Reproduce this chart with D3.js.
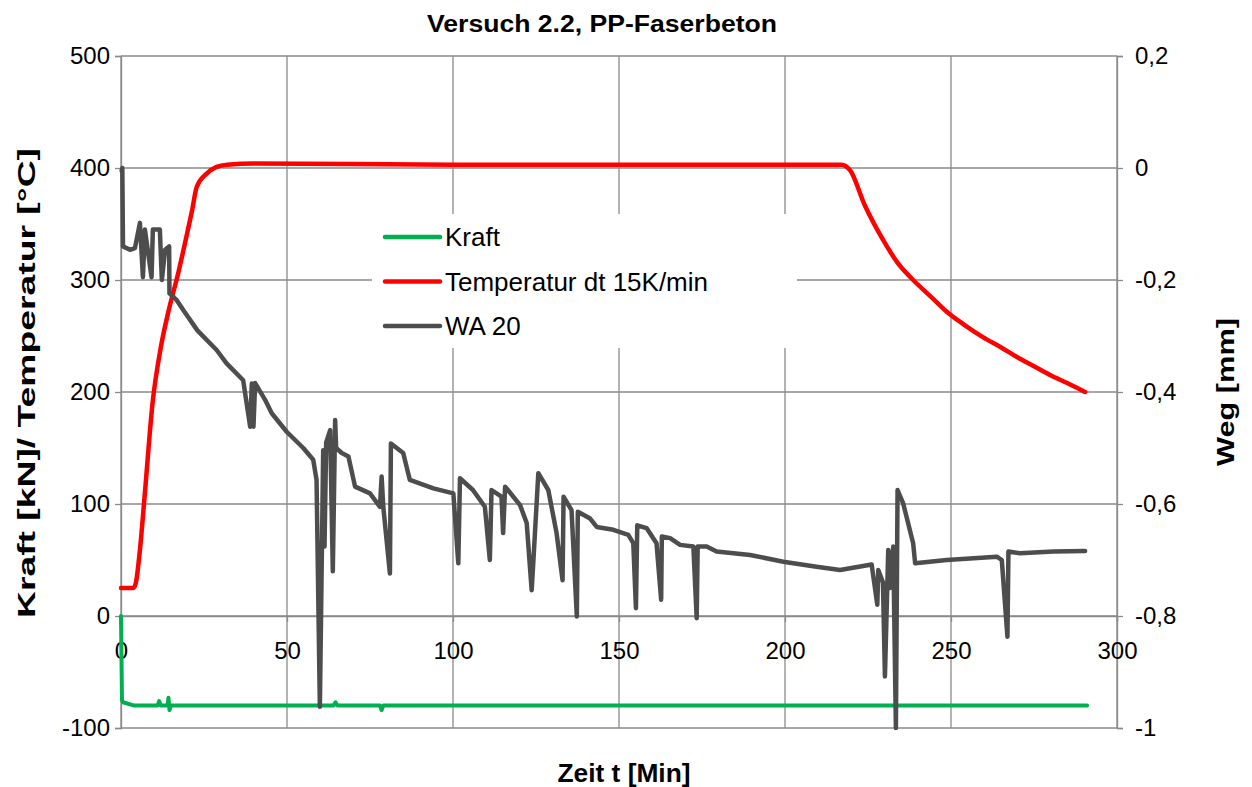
<!DOCTYPE html>
<html>
<head>
<meta charset="utf-8">
<script src="https://cdn.jsdelivr.net/npm/d3@7"></script>
<style>
  body { margin: 0; background: #fff; }
  text { font-family: "Liberation Sans", Arial, sans-serif; fill: #000; }
</style>
</head>
<body>
<div id="chart"></div>
<script>
// Kraft [kN], left axis
var kraftT = [0, 0.3, 0.6, 4, 11, 11.5, 12, 14, 14.3, 14.6, 15, 30, 64, 64.6, 65.2, 78, 78.5, 79, 120, 200, 291];
var kraftV = [0, -75, -77, -80, -80, -76, -80, -80, -73, -84, -80, -80, -80, -77, -80, -80, -84, -80, -80, -80, -80];

// Temperatur dt 15K/min [°C], left axis
var tempT = [0, 3.7, 4.5, 5.7, 7.2, 9.5, 12, 14.3, 17.3, 19.8, 21.4, 22.8, 25.8, 28.8, 32, 40, 100, 160, 217, 219.6, 224, 229.5, 234, 238.6, 244, 249, 254, 259.6, 265, 270, 275, 280, 285, 290.4];
var tempV = [25, 25, 30, 59, 110, 190, 240, 272, 307, 340, 362, 383, 395, 401, 403, 404, 403, 403, 403, 398, 367, 336, 315, 300, 285, 271, 260, 249, 240, 231, 223, 215, 208, 200];

// WA 20 Weg [mm], right axis
var waT = [0.2, 0.4, 0.6, 2.7, 4.2, 5.7, 6.6, 7.2, 9.2, 9.6, 11.7, 12.3, 13.3, 14.5, 14.6, 16.8, 18.8, 23, 28.8, 31.8, 36.8, 38.9, 39.4, 39.9, 40.4, 43.4, 45.4, 49.9, 54.9, 57.9, 58.9, 59.9, 60.9, 61.3, 61.8, 63, 63.8, 64.5, 64.8, 66.5, 68.5, 70.5, 75, 78, 78.5, 79, 81, 81.3, 85, 87, 94.1, 100.1, 101.6, 102.1, 106, 109.6, 111.1, 111.6, 114.6, 115.1, 115.7, 120.2, 122.2, 123.7, 124.4, 125.7, 128.7, 131.2, 133, 133.3, 135.7, 137.3, 137.6, 141.3, 143.3, 148.3, 152.8, 154.3, 155.1, 155.5, 158.3, 161.3, 162.7, 162.9, 165.4, 168.4, 172.4, 173.4, 173.7, 176.4, 179.4, 189.5, 199.5, 209.5, 216.6, 226.1, 227.8, 228.1, 229.5, 230.1, 231.1, 231.6, 232.6, 233.4, 233.9, 235.6, 238.6, 239.2, 248.7, 263.8, 265.3, 267, 267.3, 270.8, 280.8, 290.4];
var waV = [-0.005, 0, -0.14, -0.146, -0.143, -0.098, -0.195, -0.11, -0.195, -0.11, -0.11, -0.2, -0.146, -0.14, -0.224, -0.236, -0.254, -0.29, -0.325, -0.349, -0.379, -0.462, -0.385, -0.462, -0.384, -0.414, -0.438, -0.471, -0.5, -0.521, -0.557, -0.962, -0.504, -0.676, -0.49, -0.468, -0.72, -0.45, -0.5, -0.509, -0.515, -0.569, -0.581, -0.605, -0.551, -0.605, -0.724, -0.492, -0.509, -0.557, -0.572, -0.581, -0.706, -0.554, -0.575, -0.605, -0.7, -0.575, -0.587, -0.652, -0.569, -0.602, -0.634, -0.754, -0.682, -0.545, -0.575, -0.652, -0.736, -0.587, -0.611, -0.801, -0.614, -0.626, -0.641, -0.646, -0.655, -0.67, -0.786, -0.638, -0.643, -0.67, -0.771, -0.658, -0.661, -0.673, -0.676, -0.804, -0.676, -0.676, -0.685, -0.691, -0.703, -0.712, -0.718, -0.708, -0.78, -0.718, -0.74, -0.908, -0.682, -0.75, -0.676, -1.0, -0.575, -0.599, -0.67, -0.706, -0.7, -0.694, -0.7, -0.837, -0.685, -0.688, -0.685, -0.684];

var xTicks = [0, 50, 100, 150, 200, 250, 300];
var leftTicks = [-100, 0, 100, 200, 300, 400, 500];
var rightTicks = [-1, -0.8, -0.6, -0.4, -0.2, 0, 0.2];
var seriesNames = ['Kraft', 'Temperatur dt 15K/min', 'WA 20'];
var seriesColors = ['#00b050', '#ff0000', '#4d4d4d'];

var W = 1252, H = 787;
var margin = {top: 56, right: 135, bottom: 59, left: 121},
    width = W - margin.left - margin.right,
    height = H - margin.top - margin.bottom;

var xScale = d3.scaleLinear().domain([0, 300]).range([0, width]);
var yLeft = d3.scaleLinear().domain([-100, 500]).range([height, 0]);
var yRight = d3.scaleLinear().domain([-1, 0.2]).range([height, 0]);

var svg = d3.select('#chart').append('svg')
    .attr('width', W).attr('height', H);
var g = svg.append('g')
    .attr('transform', 'translate(' + margin.left + ',' + margin.top + ')');

var gridColor = '#8a8a8a';

// gridlines
g.selectAll('.hgrid').data(leftTicks).join('line')
    .attr('x1', 0).attr('x2', width)
    .attr('y1', d => yLeft(d)).attr('y2', d => yLeft(d))
    .attr('stroke', gridColor).attr('stroke-width', 1.3);
g.selectAll('.vgrid').data(xTicks).join('line')
    .attr('x1', d => xScale(d)).attr('x2', d => xScale(d))
    .attr('y1', 0).attr('y2', height)
    .attr('stroke', gridColor).attr('stroke-width', 1.3);

// axes
var fontSize = '24px';
var leftAxis = d3.axisLeft(yLeft).tickValues(leftTicks).tickSize(6).tickPadding(5)
    .tickFormat(d => String(d));
var rightAxis = d3.axisRight(yRight).tickValues(rightTicks).tickSize(6).tickPadding(12)
    .tickFormat(d => String(+d.toFixed(1)).replace('.', ','));
var bottomAxis = d3.axisBottom(xScale).tickValues(xTicks).tickSize(6).tickPadding(20);

function styleAxis(sel) {
    sel.selectAll('path,line').attr('stroke', gridColor).attr('stroke-width', 1.3);
    sel.selectAll('text').style('font-size', fontSize).attr('fill', '#000');
}
g.append('g').call(leftAxis).call(styleAxis);
g.append('g').attr('transform', 'translate(' + width + ',0)').call(rightAxis).call(styleAxis);
g.append('g').attr('transform', 'translate(0,' + yLeft(0) + ')').call(bottomAxis).call(styleAxis);

// lines
var lineLeft = d3.line().x(d => xScale(d[0])).y(d => yLeft(d[1]));
var lineTemp = d3.line().x(d => xScale(d[0])).y(d => yLeft(d[1])).curve(d3.curveMonotoneX);
var lineRight = d3.line().x(d => xScale(d[0])).y(d => yRight(d[1]));

var kraftData = kraftT.map((t, i) => [t, kraftV[i]]);
var tempData = tempT.map((t, i) => [t, tempV[i]]);
var waData = waT.map((t, i) => [t, waV[i]]);

g.append('path').datum(kraftData).attr('d', lineLeft)
    .attr('fill', 'none').attr('stroke', seriesColors[0]).attr('stroke-width', 4)
    .attr('stroke-linejoin', 'round').attr('stroke-linecap', 'round');
g.append('path').datum(tempData).attr('d', lineTemp)
    .attr('fill', 'none').attr('stroke', seriesColors[1]).attr('stroke-width', 4.5)
    .attr('stroke-linejoin', 'round').attr('stroke-linecap', 'round');
g.append('path').datum(waData).attr('d', lineRight)
    .attr('fill', 'none').attr('stroke', seriesColors[2]).attr('stroke-width', 4.5)
    .attr('stroke-linejoin', 'round').attr('stroke-linecap', 'round');

// legend
var legend = svg.append('g').attr('transform', 'translate(372,214)');
legend.append('rect').attr('width', 425).attr('height', 134).attr('fill', '#fff');
var items = legend.selectAll('.item').data(seriesNames).join('g')
    .attr('transform', (d, i) => 'translate(0,' + (23 + i * 44.5) + ')');
items.append('line')
    .attr('x1', 13).attr('x2', 68).attr('y1', 0).attr('y2', 0)
    .attr('stroke', (d, i) => seriesColors[i]).attr('stroke-width', 4.5)
    .attr('stroke-linecap', 'round');
items.append('text').attr('x', 73).attr('y', 9).style('font-size', '26px').text(d => d);

// titles
svg.append('text').attr('x', 602).attr('y', 32).attr('text-anchor', 'middle')
    .style('font-size', '23px').style('font-weight', 'bold')
    .attr('textLength', 350).attr('lengthAdjust', 'spacingAndGlyphs')
    .text('Versuch 2.2, PP-Faserbeton');
svg.append('text').attr('x', 624).attr('y', 782).attr('text-anchor', 'middle')
    .style('font-size', '25px').style('font-weight', 'bold')
    .attr('textLength', 133).attr('lengthAdjust', 'spacingAndGlyphs')
    .text('Zeit t [Min]');
svg.append('text').attr('transform', 'translate(35,383) rotate(-90)').attr('text-anchor', 'middle')
    .style('font-size', '23px').style('font-weight', 'bold')
    .attr('textLength', 470).attr('lengthAdjust', 'spacingAndGlyphs')
    .text('Kraft [kN]/ Temperatur [°C]');
svg.append('text').attr('transform', 'translate(1234,392) rotate(-90)').attr('text-anchor', 'middle')
    .style('font-size', '23px').style('font-weight', 'bold')
    .attr('textLength', 148).attr('lengthAdjust', 'spacingAndGlyphs')
    .text('Weg [mm]');
</script>
</body>
</html>
